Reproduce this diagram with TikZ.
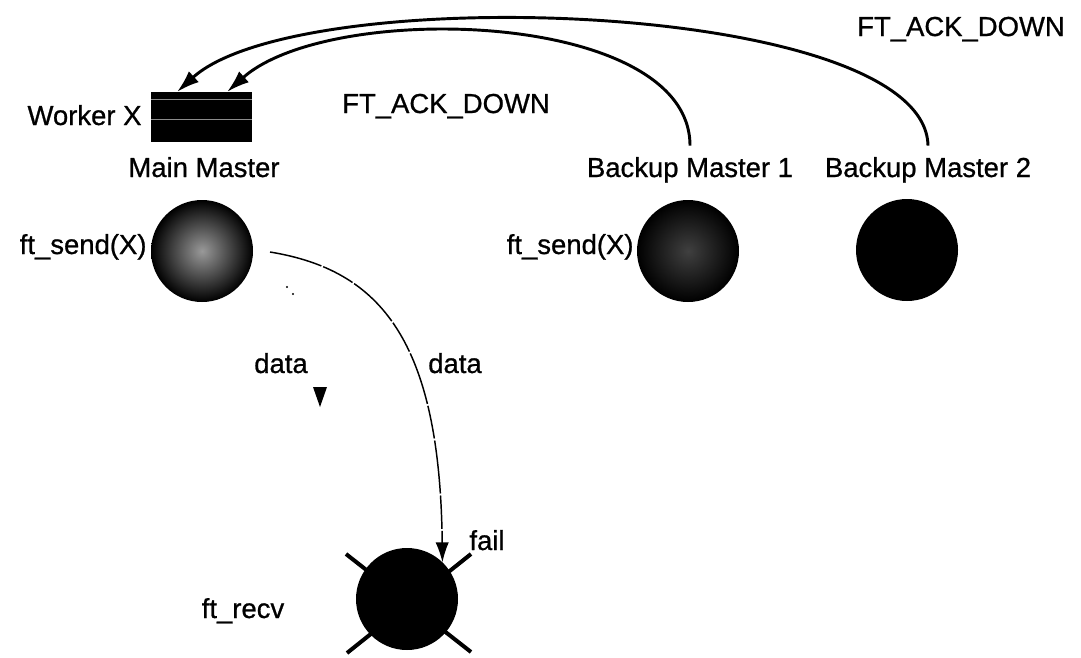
\documentclass[tikz,border=0pt]{standalone}
\usepackage{fontspec}
\setmainfont{Liberation Sans}[FakeBold=0.8]
\usetikzlibrary{arrows.meta,calc}

\newcommand{\lblfont}{\fontsize{20.6pt}{24pt}\selectfont}

\tikzset{every picture/.style={line width=0.75pt}}
\tikzset{
  lbl/.style={inner sep=0pt, anchor=base, font=\lblfont},
  lbleast/.style={inner sep=0pt, anchor=base east, font=\lblfont},
  master/.style={circle, minimum size=76.5pt, inner sep=0pt, outer sep=0pt},
  ackline/.style={line width=2.2pt, -{Latex[length=17pt,width=11pt]}},
  dataline/.style={line width=1.1pt, dash pattern=on 40pt off 1.5pt on 25pt off 1.5pt, -{Latex[length=15pt,width=10pt]}},
  failcross/.style={line width=3pt},
}

\begin{document}
\begin{tikzpicture}[x=0.75pt,y=0.75pt,yscale=-1,xscale=1]
\useasboundingbox (0,0) rectangle (1081,657);

%Shape: Worker queue box
\node [fill=black, minimum width=75.75pt, minimum height=37.5pt, inner sep=0pt, outer sep=0pt] (workerx) at (201.5,117) {};
\draw [color=black!45, line width=0.6pt] ($(workerx.north west)+(0,7.5)$) -- ($(workerx.north east)+(0,7.5)$) ;
\draw [color=black!45, line width=0.6pt] ($(workerx.north west)+(0,27.5)$) -- ($(workerx.north east)+(0,27.5)$) ;

%Shape: Master circles
\node [master, shading=radial, inner color=black!40, outer color=black] (mainm) at (202,251) {};
\node [master, shading=radial, inner color=black!75, outer color=black] (bm1) at (688,251) {};
\node [master, fill=black] (bm2) at (907,250) {};

%Shape: failed receiver
\coordinate (failpos) at (407,599);
\draw [failcross] ($(failpos)+(-61,-45)$) -- ($(failpos)+(64,53)$) ;
\draw [failcross] ($(failpos)+(64,-45)$) -- ($(failpos)+(-60,54)$) ;
\node [master, fill=black] (failc) at (failpos) {};

% Text Node
\node [lbleast] (workerlbl) at (142,125) {Worker X};
% Text Node
\node [lbl] (mainlbl) at (204,177) {Main Master};
% Text Node
\node [lbl] (bm1lbl) at (690,177) {Backup Master 1};
% Text Node
\node [lbl] (bm2lbl) at (928,177) {Backup Master 2};
% Text Node
\node [lbl] (acktop) at (961,36) {FT\_ACK\_DOWN};
% Text Node
\node [lbl] (ackmid) at (446,113) {FT\_ACK\_DOWN};
% Text Node
\node [lbleast] (sendmain) at (147,254) {ft\_send(X)};
% Text Node
\node [lbleast] (sendbm1) at (634,254) {ft\_send(X)};
% Text Node
\node [lbl] (dataleft) at (281,373) {data};
% Text Node
\node [lbl] (dataright) at (455,373) {data};
% Text Node
\node [lbl] (faillbl) at (487,550) {fail};
% Text Node
\node [lbl] (recvlbl) at (243,618) {ft\_recv};

%Curve Lines: FT_ACK_DOWN back to the main master
\draw [ackline] ($(bm2lbl.north)+(0,-11)$) .. controls (925,0) and (300,-20) .. ($(workerx.north west)+(26,0)$) ;
\draw [ackline] ($(bm1lbl.north)+(0,-11)$) .. controls (690,10) and (330,0) .. ($(workerx.north west)+(76,0)$) ;

%Curve Lines: data to the receiver
\draw [dataline] ($(mainm.east)+(17,1)$) .. controls (380,270) and (440,340) .. (failc.46) ;

%Shape: lone arrow head under left data
\fill (313,387) -- (327,387) -- (320,407) -- cycle ;
\fill (287,287) circle (1.2) ;
\fill (293,294) circle (1.2) ;

\end{tikzpicture}
\end{document}
